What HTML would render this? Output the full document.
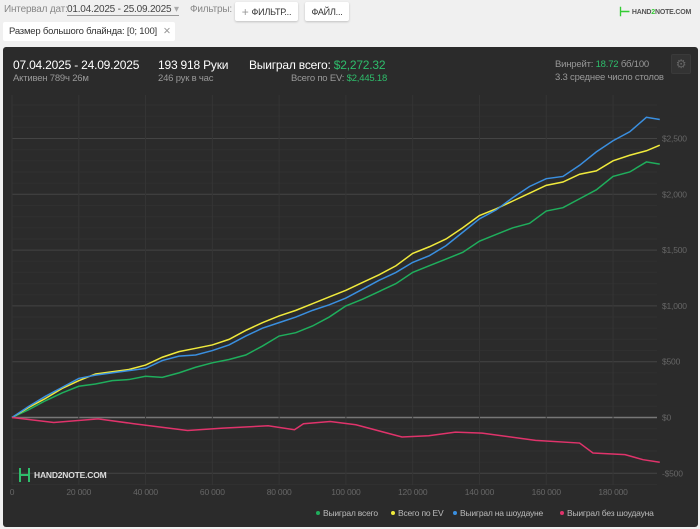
<!DOCTYPE html>
<html><head><meta charset="utf-8">
<style>
body{margin:0;width:700px;height:529px;background:#f0f0f0;font-family:"Liberation Sans Narrow","Liberation Sans","Noto Sans CJK SC",sans-serif;position:relative;overflow:hidden;letter-spacing:-0.2px}
.t{position:absolute;white-space:nowrap}
.btn{position:absolute;background:#fff;border-radius:2px;box-shadow:0 1px 2px rgba(0,0,0,.2);font-size:9px;color:#333;display:flex;align-items:center;justify-content:center;white-space:nowrap}
#panel{position:absolute;left:3px;top:47px;width:695px;height:480px;background:#2b2b2b;border-radius:3px}
svg text{letter-spacing:-0.2px}
</style></head><body>
<div class="t" style="left:4px;top:4px;font-size:10px;color:#888">Интервал дат:</div>
<div class="t" style="left:67px;top:4px;font-size:10px;color:#444;border-bottom:1px solid #999">01.04.2025 - 25.09.2025 <span style="color:#aaa">▾</span></div>
<div class="t" style="left:190px;top:4px;font-size:10px;color:#888">Фильтры:</div>
<div class="btn" style="left:235px;top:2px;width:63px;height:19px"><span style="color:#999;font-size:12px;margin-right:3px">+</span>ФИЛЬТР...</div>
<div class="btn" style="left:305px;top:2px;width:44px;height:19px">ФАЙЛ...</div>
<div class="t" style="left:619px;top:4px;font-size:7px;color:#555;font-weight:bold"><span style="color:#3c3;font-size:13px;vertical-align:middle">⊢</span> HAND<span style="color:#3c3">2</span>NOTE.COM</div>
<div class="btn" style="left:3px;top:22px;width:172px;height:19px;font-size:9.5px;justify-content:flex-start;padding-left:6px;box-sizing:border-box;box-shadow:none">Размер большого блайнда: [0; 100] <span style="color:#999;margin-left:6px">✕</span></div>
<div id="panel"></div>
<div class="t" style="left:13px;top:58px;font-size:12px;color:#fff">07.04.2025 - 24.09.2025</div>
<div class="t" style="left:13px;top:73px;font-size:9.5px;color:#999">Активен 789ч 26м</div>
<div class="t" style="left:158px;top:58px;font-size:12px;color:#fff">193 918 Руки</div>
<div class="t" style="left:158px;top:73px;font-size:9.5px;color:#999">246 рук в час</div>
<div class="t" style="left:249px;top:58px;font-size:12px;color:#fff">Выиграл всего: <span style="color:#2ebd6b">$2,272.32</span></div>
<div class="t" style="left:291px;top:73px;font-size:9.5px;color:#999">Всего по EV: <span style="color:#2ebd6b">$2,445.18</span></div>
<div class="t" style="left:555px;top:59px;font-size:9.5px;color:#999">Винрейт: <span style="color:#2ebd6b">18.72</span> бб/100</div>
<div class="t" style="left:555px;top:72px;font-size:9.5px;color:#999">3.3 среднее число столов</div>
<div class="btn" style="left:671px;top:54px;width:18px;height:18px;background:#333;border:1px solid #3a3a3a;color:#666;font-size:12px;box-shadow:none">⚙</div>
<svg id="chart" width="700" height="529" style="position:absolute;left:0;top:0"></svg>
<script>
const xs=[0,5,10,15,20,25,30,35,40,45,50,55,60,65,70,75,80,85,90,95,100,105,110,115,120,125,130,135,140,145,150,155,160,165,170,175,180,185,190,194];
const green=[0,70,150,220,280,300,330,340,370,360,400,450,490,520,560,640,730,760,820,900,1000,1060,1130,1200,1300,1360,1420,1480,1580,1640,1700,1740,1850,1880,1960,2040,2160,2200,2290,2270];
const yellow=[0,90,170,260,330,390,410,430,470,540,590,620,650,700,780,850,910,960,1020,1080,1140,1210,1280,1360,1470,1530,1600,1700,1810,1870,1940,2010,2080,2110,2180,2210,2300,2350,2390,2440];
const blue=[0,100,190,270,350,380,400,420,440,510,550,560,600,650,730,800,850,900,960,1010,1070,1150,1230,1300,1390,1450,1540,1660,1780,1860,1970,2070,2140,2160,2260,2380,2480,2560,2690,2670];
const pinkX=[0,12.5,25.8,36.5,52.6,63.2,76.7,84.6,87.3,95.3,103,116.8,124.8,132.8,140.8,156.8,170,174,183.6,189,194];
const pink=[0,-45,-12,-56,-116,-95,-74,-110,-56,-36,-65,-175,-164,-131,-140,-205,-229,-318,-333,-378,-401];
const xTicks=[0,20,40,60,80,100,120,140,160,180];
const xTickLabels=["0","20 000","40 000","60 000","80 000","100 000","120 000","140 000","160 000","180 000"];
const yTicks=[-500,0,500,1000,1500,2000,2500];
const yTickLabels=["-$500","$0","$500","$1,000","$1,500","$2,000","$2,500"];
const series=[{n:"Выиграл всего",c:"#1fae5c",x:xs,y:green,k:"green"},{n:"Всего по EV",c:"#f0ea3c",x:xs,y:yellow,k:"yellow"},{n:"Выиграл на шоудауне",c:"#3a8fe0",x:xs,y:blue,k:"blue"},{n:"Выиграл без шоудауна",c:"#e0336b",x:pinkX,y:pink,k:"pink"}];
const X=v=>12+v*3.339, Y=v=>417.5-v*0.1116;
const s=document.getElementById('chart'),NS="http://www.w3.org/2000/svg";
function el(t,a){const e=document.createElementNS(NS,t);for(const k in a)e.setAttribute(k,a[k]);s.appendChild(e);return e;}
for(let v=-600;v<=2800;v+=100){if(Y(v)<95||Y(v)>485)continue;const g=el('line',{x1:12,x2:657,y1:Y(v),y2:Y(v),stroke:v%500==0?(v==0?'#777':'#444'):'#303030','stroke-width':v==0?1.5:1});

}
xTicks.forEach((v,i)=>{const g=el('line',{x1:X(v),x2:X(v),y1:95,y2:485,stroke:'#353535'});


const t=el('text',{x:X(v),y:495,fill:'#666','font-size':8.5,'text-anchor':'middle'});t.textContent=xTickLabels[i];

});
yTicks.forEach((v,i)=>{const t=el('text',{x:662,y:Y(v)+3,fill:'#666','font-size':8.5});t.textContent=yTickLabels[i];

});
series.forEach(se=>{const p=el('polyline',{points:se.x.map((x,i)=>X(x)+','+Y(se.y[i])).join(' '),fill:'none',stroke:se.c,'stroke-width':1.5});

});
const lx=[318,393,455,562];
series.forEach((se,i)=>{const c=el('circle',{cx:lx[i],cy:513,r:2,fill:se.c});


const t=el('text',{x:lx[i]+5,y:516,fill:'#bbb','font-size':8.5});t.textContent=se.n;

});
const w=el('text',{x:34,y:478,fill:'#ddd','font-size':8.5,'font-weight':'bold'});w.textContent="HAND2NOTE.COM";


const wl=el('path',{d:'M20 468v14M29 468v14M20 475h9',stroke:'#2ebd6b','stroke-width':2,fill:'none'});


</script>
</body></html>
